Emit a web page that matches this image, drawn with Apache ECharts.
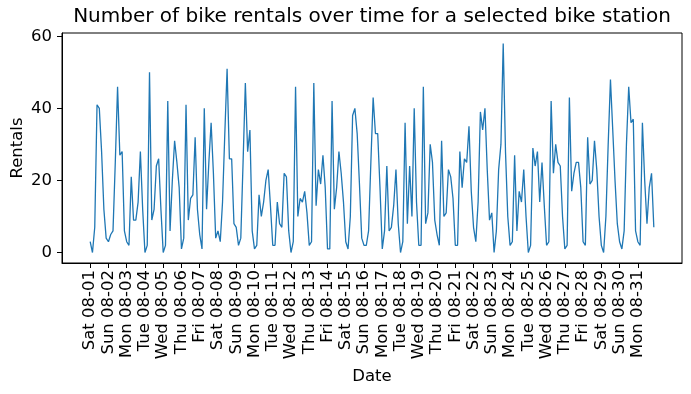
<!DOCTYPE html>
<html>
<head>
<meta charset="utf-8">
<script src="https://cdn.jsdelivr.net/npm/echarts@6/dist/echarts.min.js"></script>
<style>html,body{margin:0;padding:0;background:#fff}#c{width:691px;height:394px}</style>
</head>
<body>
<div id="c"></div>
<script>
// 3-hourly rentals, 2015-08-01 00:00 .. 2015-08-31 21:00
const rentals = [
  3, 0, 7, 41, 40, 28, 12, 4,
  3, 5, 6, 25, 46, 27, 28, 6,
  3, 2, 21, 9, 9, 14, 28, 12,
  0, 2, 50, 9, 12, 24, 26, 12,
  0, 2, 42, 6, 20, 31, 25, 18,
  1, 4, 41, 9, 15, 16, 32, 12,
  5, 1, 40, 12, 25, 36, 22, 4,
  6, 3, 14, 33, 51, 26, 26, 8,
  7, 2, 4, 25, 47, 28, 34, 6,
  1, 2, 16, 10, 14, 20, 23, 13,
  2, 2, 14, 8, 7, 22, 21, 6,
  0, 3, 46, 10, 15, 14, 17, 11,
  2, 3, 47, 13, 23, 19, 27, 18,
  1, 1, 42, 12, 18, 28, 22, 14,
  3, 1, 10, 38, 40, 33, 19, 4,
  2, 2, 6, 25, 43, 33, 33, 18,
  1, 6, 24, 6, 7, 13, 23, 8,
  0, 3, 36, 8, 24, 10, 40, 14,
  2, 2, 46, 8, 11, 30, 25, 9,
  5, 2, 31, 10, 11, 23, 21, 15,
  2, 2, 28, 18, 26, 25, 35, 17,
  7, 3, 14, 39, 34, 40, 23, 9,
  11, 0, 6, 23, 30, 58, 28, 10,
  2, 3, 27, 6, 17, 14, 23, 10,
  0, 2, 29, 24, 28, 14, 25, 13,
  2, 3, 42, 22, 30, 25, 24, 10,
  1, 2, 43, 17, 22, 25, 25, 18,
  3, 2, 32, 19, 20, 31, 23, 10,
  2, 0, 10, 30, 48, 34, 20, 8,
  3, 1, 6, 30, 46, 36, 37, 6,
  3, 2, 36, 20, 8, 18, 22, 7
];
const dayLabels = [
  'Sat 08-01','Sun 08-02','Mon 08-03','Tue 08-04','Wed 08-05','Thu 08-06','Fri 08-07',
  'Sat 08-08','Sun 08-09','Mon 08-10','Tue 08-11','Wed 08-12','Thu 08-13','Fri 08-14',
  'Sat 08-15','Sun 08-16','Mon 08-17','Tue 08-18','Wed 08-19','Thu 08-20','Fri 08-21',
  'Sat 08-22','Sun 08-23','Mon 08-24','Tue 08-25','Wed 08-26','Thu 08-27','Fri 08-28',
  'Sat 08-29','Sun 08-30','Mon 08-31'
];
const stepsPerDay = 8;
const yTicks = [0, 20, 40, 60];

const n = rentals.length;
const pad = (n - 1) * 0.05;
const dayTicks = dayLabels.map((_, i) => i * stepsPerDay);
const yPad = (58 - 0) * 0.05;
const font = 'DejaVu Sans';
const fs = 16.5;

const chart = echarts.init(document.getElementById('c'), null, {renderer: 'canvas'});
chart.setOption({
  animation: false,
  title: {
    text: 'Number of bike rentals over time for a selected bike station',
    left: 372, top: 7, textAlign: 'center', padding: 0,
    textStyle: {fontFamily: font, fontSize: 20, fontWeight: 'normal', color: '#000'}
  },
  grid: {left: 62, right: 9, top: 33, bottom: 131, containLabel: false, outerBoundsMode: 'none',
    show: true, borderColor: '#000', borderWidth: 1, backgroundColor: 'transparent'},
  xAxis: {
    type: 'value', min: -pad, max: (n - 1) + pad,
    name: 'Date', nameLocation: 'middle', nameGap: 105, nameMoveOverlap: false,
    nameTextStyle: {fontFamily: font, fontSize: fs, color: '#000'},
    axisLine: {show: true, onZero: false, lineStyle: {color: '#000', width: 1}},
    axisTick: {show: true, length: 5, customValues: dayTicks, lineStyle: {color: '#000'}},
    axisLabel: {show: true, rotate: 90, margin: 7, customValues: dayTicks,
      formatter: v => dayLabels[Math.round(v / stepsPerDay)],
      fontFamily: font, fontSize: fs, color: '#000'},
    splitLine: {show: false}
  },
  yAxis: {
    type: 'value', min: -yPad, max: 58 + yPad,
    name: 'Rentals', nameLocation: 'middle', nameGap: 36, nameMoveOverlap: false,
    nameTextStyle: {fontFamily: font, fontSize: fs, color: '#000'},
    axisLine: {show: true, onZero: false, lineStyle: {color: '#000', width: 1}},
    axisTick: {show: true, length: 5, customValues: yTicks, lineStyle: {color: '#000'}},
    axisLabel: {show: true, margin: 10, customValues: yTicks,
      fontFamily: font, fontSize: fs, color: '#000'},
    splitLine: {show: false}
  },
  series: [{
    type: 'line',
    data: rentals.map((v, i) => [i, v]),
    showSymbol: false,
    lineStyle: {color: '#1f77b4', width: 1.3},
    itemStyle: {color: '#1f77b4'}
  }]
});
</script>
</body>
</html>
